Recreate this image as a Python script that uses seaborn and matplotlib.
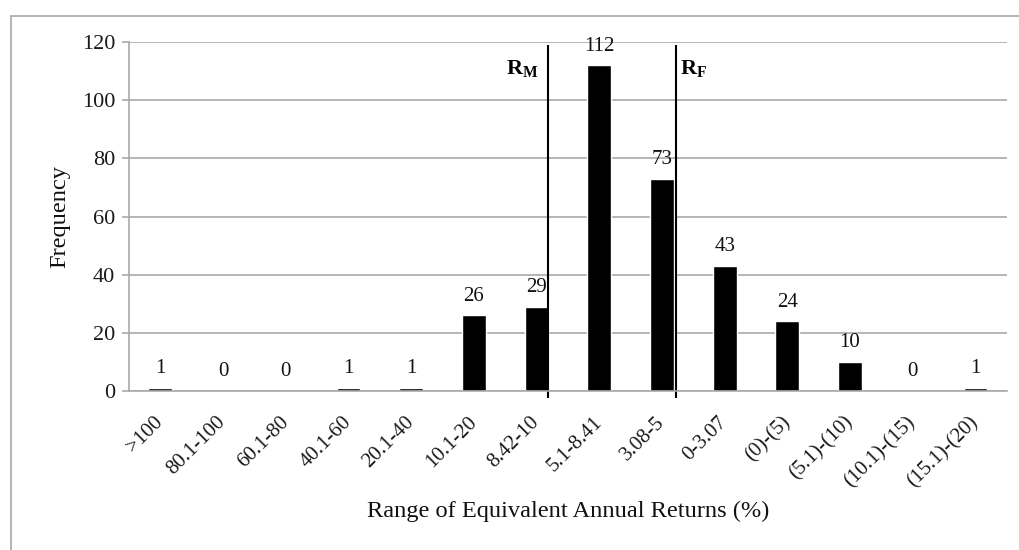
import matplotlib
matplotlib.use("Agg")
import matplotlib.pyplot as plt
from matplotlib.lines import Line2D
import seaborn as sns

# ranges of equivalent annual returns (%) and how many fall in each
categories = [
    ">100", "80.1-100", "60.1-80", "40.1-60", "20.1-40", "10.1-20", "8.42-10",
    "5.1-8.41", "3.08-5", "0-3.07", "(0)-(5)", "(5.1)-(10)", "(10.1)-(15)", "(15.1)-(20)",
]
frequency = [1, 0, 0, 1, 1, 26, 29, 112, 73, 43, 24, 10, 0, 1]

# market and risk-free return markers, in category units
marker_names = [r"$\mathbf{R_M}$", r"$\mathbf{R_F}$"]
marker_pos = [6.19, 8.23]

sns.set_theme(style="white")
plt.rcParams["font.family"] = ["Liberation Serif", "DejaVu Serif"]
plt.rcParams["mathtext.fontset"] = "custom"
plt.rcParams["mathtext.rm"] = "Liberation Serif"
plt.rcParams["mathtext.bf"] = "Liberation Serif:bold"

GRID = "#a9a9a9"

fig = plt.figure(figsize=(10.19, 5.5), dpi=100)
ax = fig.add_axes([0.1266, 0.289, 0.8614, 0.6347])

sns.barplot(x=categories, y=frequency, color="black", saturation=1, width=0.38, ax=ax)
ax.bar_label(ax.containers[0], labels=[str(v) for v in frequency], padding=7, fontsize=15, color="#111111")

ax.set_ylim(0, 120)
ax.set_yticks(range(0, 121, 20))
ax.set_xlim(-0.5, len(categories) - 0.5)
ax.yaxis.grid(True, color=GRID, linewidth=1.2)
ax.set_axisbelow(True)

for side in ["top", "right"]:
    ax.spines[side].set_visible(False)
for side in ["left", "bottom"]:
    ax.spines[side].set_color(GRID)
    ax.spines[side].set_linewidth(1.2)

ax.tick_params(axis="y", which="major", left=True, length=5, width=1.2, color=GRID, pad=5, labelsize=16, labelcolor="#1a1a1a")
ax.tick_params(axis="x", bottom=False, pad=14.5, labelsize=15, labelcolor="#1a1a1a")
for lbl in ax.get_xticklabels():
    lbl.set_rotation(45)
    lbl.set_ha("right")
    lbl.set_va("center")
    lbl.set_rotation_mode("anchor")

ax.set_xlabel("Range of Equivalent Annual Returns (%)", fontsize=17.6, color="#111111")
ax.set_ylabel("Frequency", fontsize=17.6, color="#111111")
ax.xaxis.set_label_coords(0.5, -0.315)
ax.yaxis.set_label_coords(-0.067, 0.5)

# vertical markers
for name, pos, side in zip(marker_names, marker_pos, ["right", "left"]):
    ax.vlines(pos, -2.5, 119, color="black", linewidth=1.5, clip_on=False)
    off = -0.16 if side == "right" else 0.06
    ax.text(pos + off, 111, name, ha=side, va="center", fontsize=16, color="black")

# outer chart frame
fx = 11 / 1019
fy = 1 - 16 / 550
fig.add_artist(Line2D([fx, fx], [-0.1, fy], color="#a8a8a8", linewidth=1.2))
fig.add_artist(Line2D([fx, 1.1], [fy, fy], color="#a8a8a8", linewidth=1.2))

fig.savefig("out.png", dpi=100)
